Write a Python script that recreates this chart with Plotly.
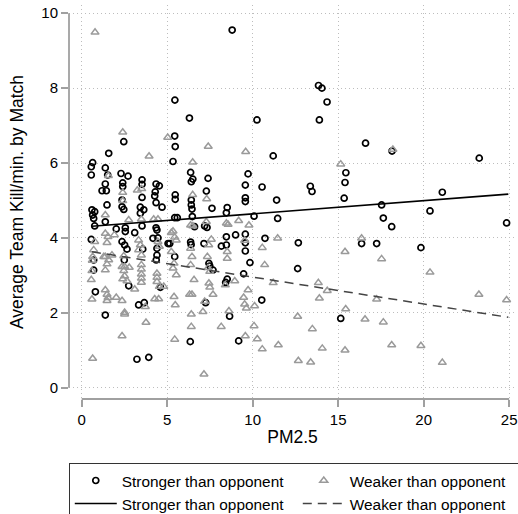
import plotly.graph_objects as go

# ---- data ----
strong_x = [8.8, 5.45, 6.3, 10.25, 13.85, 14.05, 14.35, 13.9, 16.6, 18.15, 23.25, 11.2, 15.45, 15.4, 15.35,
            10.55, 13.37, 13.47, 11.4, 17.54, 21.09, 20.37, 24.85, 10.08, 11.46, 17.64, 18.13, 10.72, 12.67,
            16.37, 17.25, 19.84, 12.63, 10.53, 15.15, 9.84,
            5.44, 5.47, 5.34, 6.37, 6.5, 6.41, 7.39, 9.73, 9.57, 7.29, 5.47, 5.47, 6.41, 6.41, 6.45, 7.62,
            8.51, 8.46, 9.57, 9.57, 5.44, 5.59, 6.47, 7.19, 7.33, 6.6, 8.46, 9.0, 9.57, 5.15, 6.37, 6.4,
            7.15, 8.17, 8.46, 9.57, 5.44, 9.57,
            7.44, 7.49, 7.68, 9.47, 8.51, 8.42, 7.25, 8.65, 6.35, 9.18,
            0.7, 0.7, 2.49, 0.8, 2.75, 3.33, 3.66, 1.38, 3.23, 3.92, 4.36, 4.6,
            2.46, 1.58, 0.64, 0.56, 0.56, 1.38, 1.52, 2.3, 2.71, 3.53, 3.53, 3.53, 1.38, 1.19, 1.44, 2.4,
            2.4, 2.36, 2.36, 2.46, 4.35, 4.54, 4.3, 4.27, 4.35, 4.7, 1.48, 3.43, 3.63, 3.43, 0.6, 0.76,
            0.64, 0.7, 0.76, 1.38, 2.02, 2.55, 2.55, 3.1, 3.53, 0.56, 2.36, 2.51, 2.65, 4.35, 4.4, 4.46,
            4.17, 4.4, 5.05, 4.4, 3.57]
strong_y = [9.55, 7.68, 7.2, 7.15, 8.07, 8.0, 7.63, 7.15, 6.53, 6.32, 6.13, 6.19, 5.74, 5.48, 5.06,
            5.36, 5.38, 5.24, 5.01, 4.88, 5.22, 4.72, 4.4, 4.58, 4.52, 4.53, 4.3, 3.99, 3.87,
            3.85, 3.85, 3.74, 3.18, 2.34, 1.85, 3.34,
            6.72, 6.44, 6.04, 5.75, 5.57, 5.5, 5.59, 5.71, 5.41, 5.25, 5.15, 5.03, 5.01, 4.88, 4.77, 4.79,
            4.81, 4.67, 5.07, 4.97, 4.54, 4.54, 4.57, 4.32, 4.28, 4.3, 4.03, 4.08, 4.1, 3.85, 3.89, 3.82,
            3.85, 3.78, 3.81, 3.87, 3.5, 3.65,
            3.32, 3.25, 3.14, 3.04, 2.9, 2.81, 2.27, 1.91, 1.23, 1.25,
            3.41, 3.14, 3.41, 2.56, 2.72, 2.21, 2.27, 1.94, 0.76, 0.81, 3.41, 2.68,
            6.57, 6.26, 6.01, 5.9, 5.68, 5.87, 5.68, 5.72, 5.65, 5.55, 5.43, 5.08, 5.44, 5.26, 5.26, 5.47,
            5.37, 5.01, 4.83, 4.76, 5.44, 5.39, 5.23, 5.12, 4.94, 4.82, 4.88, 4.82, 4.75, 4.66, 4.75, 4.7,
            4.61, 4.52, 4.32, 4.43, 4.24, 4.27, 4.17, 4.14, 4.32, 3.96, 3.9, 3.81, 3.7, 4.27, 4.21, 4.0,
            3.99, 3.72, 3.85, 3.54, 3.7]

weak_x = [0.78, 2.4, 3.94, 5.03, 7.4, 6.49, 9.59, 15.15, 18.2, 6.49, 2.4, 3.25, 3.51, 7.31, 1.56,
          2.4, 1.38, 2.75, 3.49, 4.46, 4.21, 5.24, 0.76, 1.38, 1.54, 1.91, 1.48, 3.33, 3.43, 3.33, 3.49,
          4.46, 4.54, 0.7, 0.64, 1.29, 1.77, 2.46,
          1.38, 0.62, 1.58, 1.48, 1.38, 0.6, 0.56, 2.36, 2.51, 2.78, 2.46, 2.51, 2.4, 2.65, 3.49, 3.49,
          3.49, 3.49, 3.49, 4.4, 4.4, 4.4, 4.54, 3.1, 1.38, 1.48, 1.54, 1.48, 2.02, 2.36, 0.6, 2.51,
          2.51, 3.72, 3.76, 2.36, 0.64, 4.27, 4.5, 4.8,
          5.4, 5.34, 5.53, 6.37, 6.57, 7.44, 7.49, 8.4, 8.95, 9.73, 9.47, 9.53, 9.63, 10.11, 5.4, 5.47,
          6.31, 6.45, 7.19, 7.09, 7.68, 8.61, 6.41, 6.41, 8.16, 5.44, 9.57, 10.08, 10.27, 10.56, 7.15,
          10.7, 7.35, 8.51, 6.45, 7.39, 7.49,
          6.37, 6.5, 7.29, 8.46, 8.56, 9.18, 9.78, 5.34, 5.44, 5.53, 7.58, 7.43, 9.53, 10.56, 6.37,
          8.51, 5.24,
          11.46, 11.2, 13.84, 14.36, 13.9, 15.4, 16.37, 17.54, 17.25, 15.44, 20.37, 23.23, 24.85, 11.5,
          12.63, 13.49, 14.07, 12.67, 13.39, 15.4, 16.57, 17.64, 18.13, 19.84, 21.09]
weak_y = [9.49, 6.82, 6.18, 6.68, 6.44, 6.02, 6.3, 5.97, 6.36, 5.15, 5.21, 5.27, 5.31, 5.04, 5.66,
          4.99, 4.61, 4.48, 4.5, 4.5, 4.5, 4.14, 3.9, 4.12, 4.03, 4.08, 3.87, 3.94, 3.81, 3.68, 3.54,
          3.9, 3.77, 3.68, 3.5, 3.5, 3.54, 3.52,
          3.5, 3.4, 3.41, 3.3, 3.14, 3.12, 2.88, 3.23, 3.23, 3.21, 3.12, 2.98, 2.9, 2.85, 3.28, 3.16,
          3.03, 2.92, 2.81, 3.05, 2.94, 2.83, 2.7, 2.63, 2.61, 2.49, 2.4, 2.32, 2.41, 2.32, 2.36, 2.01,
          1.96, 2.16, 1.74, 1.38, 0.78, 2.37, 2.37, 2.7,
          3.32, 3.19, 3.01, 3.28, 2.88, 2.79, 2.68, 2.74, 2.85, 2.61, 2.41, 2.23, 2.12, 2.18, 2.43, 2.21,
          2.49, 2.49, 2.3, 2.03, 2.49, 2.05, 1.96, 1.63, 1.63, 1.29, 1.38, 1.65, 1.3, 1.03, 0.36,
          3.28, 3.5, 3.45, 3.5, 3.2, 3.1,
          4.34, 4.32, 4.43, 4.39, 4.36, 4.46, 4.34, 4.18, 4.02, 3.94, 3.96, 3.81, 3.93, 3.74, 3.72,
          3.63, 3.63,
          3.99, 2.8, 2.8, 2.59, 2.39, 3.63, 3.99, 3.44, 2.36, 2.1, 3.08, 2.49, 2.34, 1.14,
          1.9, 1.57, 1.05, 0.72, 0.68, 1.0, 1.83, 1.75, 1.14, 1.12, 0.67]

fit_x = [0.6, 24.95]
fit_strong_y = [4.31, 5.17]
fit_weak_y = [3.63, 1.88]

x_ticks = [0, 5, 10, 15, 20, 25]
y_ticks = [0, 2, 4, 6, 8, 10]

label_strong = "Stronger than opponent"
label_weak = "Weaker than opponent"
x_title = "PM2.5"
y_title = "Average Team Kill/min. by Match"

FONT = "Liberation Sans, Arial, Helvetica, sans-serif"
AXIS_GRAY = "#a0a0a0"
GRID_GRAY = "#bdbdbd"

fig = go.Figure()
fig.add_trace(go.Scatter(
    x=strong_x, y=strong_y, mode="markers", name=label_strong,
    marker=dict(symbol="circle-open", size=6, color="black", line=dict(width=1.7, color="black")),
))
fig.add_trace(go.Scatter(
    x=weak_x, y=weak_y, mode="markers", name=label_weak,
    marker=dict(symbol="triangle-up-open", size=7, color="#9a9a9a", line=dict(width=1.5, color="#9a9a9a")),
))
fig.add_trace(go.Scatter(
    x=fit_x, y=fit_strong_y, mode="lines", name=label_strong,
    line=dict(color="black", width=1.6),
))
fig.add_trace(go.Scatter(
    x=fit_x, y=fit_weak_y, mode="lines", name=label_weak,
    line=dict(color="#444444", width=1.5, dash="9px,6px"),
))

# axis lines spanning only the tick range (Stata style)
fig.add_shape(type="line", xref="x", yref="paper", x0=x_ticks[0], x1=x_ticks[-1], y0=0, y1=0,
              line=dict(color=AXIS_GRAY, width=1.8))
fig.add_shape(type="line", xref="paper", yref="y", x0=0, x1=0, y0=y_ticks[0], y1=y_ticks[-1],
              line=dict(color=AXIS_GRAY, width=1.8))

fig.update_layout(
    width=518, height=514,
    margin=dict(l=69, r=2, t=5, b=115, autoexpand=False),
    paper_bgcolor="white", plot_bgcolor="white",
    font=dict(family=FONT, color="black"),
    showlegend=True,
    legend=dict(
        orientation="h", x=-0.0005, xanchor="left", y=-0.1624, yanchor="top",
        bordercolor="#333333", borderwidth=1, bgcolor="white",
        font=dict(size=15.4, family=FONT, color="black"),
        itemwidth=42, entrywidth=171, entrywidthmode="pixels",
        tracegroupgap=0, traceorder="normal",
    ),
    xaxis=dict(
        range=[-0.743, 25.4], tickmode="array", tickvals=x_ticks,
        ticks="outside", ticklen=7, tickwidth=1.5, tickcolor=AXIS_GRAY,
        showgrid=True, gridcolor=GRID_GRAY, griddash="1px,3px", gridwidth=1,
        zeroline=False, showline=False,
        tickfont=dict(size=15, family=FONT, color="black"),
        ticklabeloverflow="allow",
        title=dict(text=x_title, font=dict(size=17.5, family=FONT, color="black"), standoff=3),
    ),
    yaxis=dict(
        range=[-0.302, 10.22], tickmode="array", tickvals=y_ticks,
        ticks="outside", ticklen=7, tickwidth=1.5, tickcolor=AXIS_GRAY,
        showgrid=True, gridcolor=GRID_GRAY, griddash="1px,3px", gridwidth=1,
        zeroline=False, showline=False,
        tickfont=dict(size=15, family=FONT, color="black"),
        ticklabeloverflow="allow",
        title=dict(text=y_title, font=dict(size=17.5, family=FONT, color="black"), standoff=13),
    ),
)

# remove the default 8px page margin so the figure fills the window exactly
fig.write_html(
    "out.html",
    config={"displayModeBar": False},
    post_script="document.body.style.margin='0';document.body.style.overflow='hidden';",
)
